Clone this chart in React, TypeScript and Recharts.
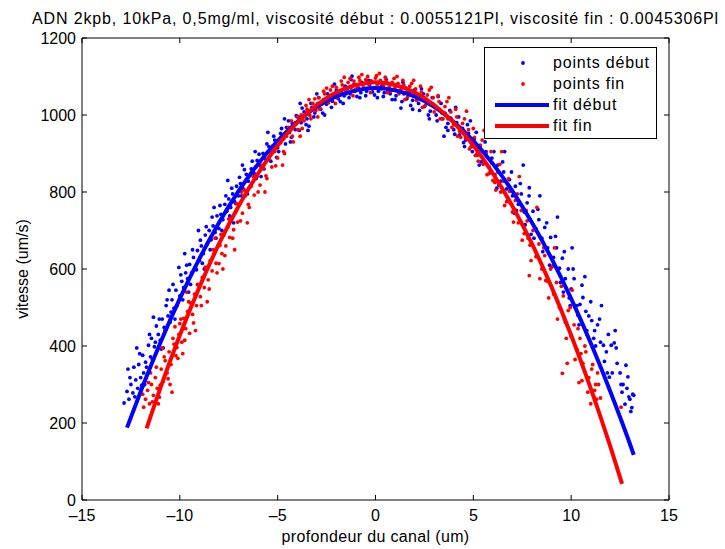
import {
  ScatterChart,
  Scatter,
  XAxis,
  YAxis,
  Legend,
} from "recharts";

// points début (blue)
const debutX = [
  -12.85, -12.7, -12.6, -12.5, -12.4, -12.35, -12.25, -12.15, -12.1, -12.0, -11.9, -11.85, -11.75, -11.6, -11.5,
  -11.45, -11.3, -11.2, -11.1, -11.0, -10.9, -10.8, -10.7, -10.6, -10.5, -10.4, -10.3, -10.2, -10.05, -10.0,
  -9.9, -9.8, -9.7, -9.6, -9.5, -9.4, -9.3, -9.2, -9.1, -9.0, -8.9, -8.8, -8.7, -8.6, -8.5, -8.4, -8.3, -8.2,
  -8.1, -8.0, -7.9, -7.8, -7.7, -7.6, -7.5, -7.4, -7.3, -7.2, -7.1, -7.0, -6.9, -6.75, -6.6, -6.5, -6.35, -6.2,
  -6.05, -5.9, -5.75, -5.6, -5.45, -5.3, -5.15, -5.0, -4.85, -4.7, -4.55, -4.4, -4.25, -4.1, -3.95, -3.8, -3.65,
  -3.5, -3.4, -3.25, -3.1, -2.95, -2.8, -2.65, -2.5, -2.35, -2.2, -2.05, -1.9, -1.75, -1.6, -1.45, -1.3, -1.2,
  -1.05, -0.9, -0.75, -0.6, -0.45, -0.3, -0.15, 0.0, 0.15, 0.3, 0.45, 0.6, 0.75, 0.9, 1.05, 1.2, 1.3, 1.45, 1.6,
  1.75, 1.9, 2.05, 2.2, 2.35, 2.5, 2.65, 2.8, 2.95, 3.1, 3.25, 3.4, 3.5, 3.55, 3.7, 3.85, 4.0, 4.15, 4.3, 4.45,
  4.6, 4.75, 4.9, 5.05, 5.2, 5.35, 5.5, 5.65, 5.8, 5.95, 6.1, 6.25, 6.4, 6.55, 6.7, 6.85, 7.0, 7.15, 7.3, 7.45,
  7.6, 7.75, 7.86, 7.9, 8.05, 8.2, 8.35, 8.5, 8.65, 8.8, 8.95, 9.1, 9.25, 9.4, 9.55, 9.7, 9.85, 9.95, 10.0,
  10.15, 10.3, 10.45, 10.6, 10.75, 10.9, 11.05, 11.2, 11.35, 11.5, 11.65, 11.8, 11.95, 12.05, 12.2, 12.35, 12.5,
  12.65, 12.75, 12.85, 13.0, 13.15, 13.2,
];
const debutV = [
  252, 282, 262, 300, 278, 345, 312, 290, 352, 318, 376, 330, 358, 402, 372,
  420, 398, 452, 430, 415, 470, 448, 505, 478, 462, 520, 498, 545, 604, 530,
  568, 552, 590, 575, 612, 590, 630, 605, 648, 622, 660, 640, 688, 665, 700, 676, 712, 695,
  738, 705, 742, 728, 768, 750, 782, 760, 795, 775, 815, 790, 822, 808, 846, 828, 860, 848,
  882, 868, 900, 885, 918, 902, 935, 915, 952, 938, 968, 955, 978, 962, 995, 980, 1008,
  990, 971, 1020, 1005, 1030, 1015, 1040, 1028, 1048, 1036, 1055, 1042, 1060, 1050, 1068, 1055, 1101,
  1062, 1072, 1058, 1070, 1062, 1078, 1060, 1072, 1062, 1075, 1058, 1068, 1055, 1066, 1050, 1062, 1018, 1055, 1042,
  1058, 1038, 1050, 1030, 1042, 1022, 1035, 1010, 1028, 1000, 1015, 990, 945, 1005, 978, 992, 962, 980, 948, 965,
  935, 952, 918, 938, 900, 920, 882, 905, 865, 888, 845, 870, 828, 852, 808, 832, 790, 815, 768, 795,
  748, 772, 811, 728, 750, 705, 728, 680, 708, 655, 682, 630, 655, 602, 628, 575, 600, 505, 548,
  575, 505, 508, 526, 490, 478, 466, 440, 455, 410, 402, 385, 319, 402, 408, 355, 330,
  300, 249, 290, 262, 275, 272,
];
// second pass over the blue cloud (denser spots)
const debutX2 = [
  -12.55, -12.3, -12.05, -11.95, -11.7, -11.55, -11.4, -11.25, -11.05, -10.95, -10.75, -10.65, -10.45, -10.35,
  -10.15, -9.95, -9.85, -9.65, -9.45, -9.35, -9.15, -8.95, -8.85, -8.65, -8.45, -8.35, -8.15, -7.95, -7.85,
  -7.65, -7.45, -7.35, -7.15, -6.95, -6.85, -6.7, -6.45, -6.3, -6.1, -5.95, -5.7, -5.55, -5.35, -5.2, -4.95,
  -4.8, -4.6, -4.45, -4.3, -4.05, -3.9, -3.75, -3.55, -3.3, -3.15, -2.9, -2.7, -2.45, -2.25, -2.0, -1.8, -1.55,
  -1.35, -1.1, -0.95, -0.7, -0.5, -0.25, -0.05, 0.2, 0.4, 0.65, 0.85, 1.1, 1.35, 1.55, 1.8, 2.0, 2.25, 2.45,
  2.7, 2.9, 3.15, 3.35, 3.6, 3.8, 4.05, 4.25, 4.5, 4.7, 4.95, 5.15, 5.4, 5.6, 5.85, 6.05, 6.3, 6.5, 6.75, 6.95,
  7.2, 7.4, 7.65, 7.85, 8.1, 8.3, 8.55, 8.75, 9.0, 9.2, 9.45, 9.65, 9.9, 10.1, 10.35, 10.55, 10.8, 11.0, 11.25,
  11.45, 11.7, 11.9, 12.1, 12.3, 12.55, 12.8, 12.95, 13.1,
];
const debutV2 = [
  318, 268, 380, 298, 345, 430, 365, 410, 470, 392, 440, 520, 488, 560,
  505, 585, 520, 610, 560, 650, 598, 675, 615, 710, 650, 735, 680, 765, 700,
  790, 738, 810, 770, 838, 790, 858, 812, 880, 835, 898, 860, 925, 880, 945, 905,
  965, 925, 985, 942, 998, 960, 1018, 975, 1030, 995, 1045, 1005, 1055, 1020, 1065, 1035, 1075,
  1045, 1080, 1048, 1085, 1050, 1088, 1052, 1085, 1048, 1082, 1040, 1078, 1035, 1070, 1025, 1065, 1012, 1055,
  1000, 1045, 985, 1030, 968, 1012, 950, 995, 928, 975, 905, 955, 878, 930, 850, 905, 818, 878, 785, 852,
  752, 822, 715, 790, 680, 755, 645, 720, 605, 685, 565, 645, 525, 600, 480, 558, 440, 515, 400,
  470, 360, 430, 330, 395, 300, 350, 268, 240,
];
// the looser blue points, off the main band
const debutX3 = [
  -12.65, -12.2, -11.8, -11.35, -10.85, -10.55, -10.25, -9.75, -9.55, -9.05, -8.75, -8.25, -8.05, -7.55, -7.25,
  -6.8, -6.55, -6.15, -5.85, -5.5, -5.05, -4.65, -4.35, -3.85, -3.45, -3.0, -2.6, -2.1, -1.65, -1.25, -0.8, -0.35,
  0.1, 0.55, 1.0, 1.4, 1.9, 2.35, 2.75, 3.2, 3.7, 4.1, 4.55, 4.85, 5.3, 5.7, 6.2, 6.6, 7.1, 7.55, 7.95, 8.4,
  8.9, 9.3, 9.6, 10.05, 10.4, 10.7, 11.15, 11.55, 11.85, 12.25, 12.6, 12.9, 13.05,
];
const debutV3 = [
  340, 395, 300, 475, 395, 545, 470, 640, 540, 700, 600, 760, 660, 830, 720,
  870, 795, 905, 840, 955, 890, 990, 930, 1030, 960, 1055, 1000, 1080, 1030, 1092, 1045, 1090,
  1045, 1092, 1040, 1085, 1015, 1068, 990, 1048, 960, 1020, 918, 985, 870, 948, 810, 905, 745, 870, 690, 790,
  610, 735, 540, 655, 455, 580, 420, 505, 330, 440, 280, 320, 230,
];

// points fin (red)
const finX = [
  -11.85, -11.75, -11.65, -11.55, -11.45, -11.35, -11.25, -11.15, -11.05, -10.95, -10.85, -10.75, -10.65, -10.55,
  -10.45, -10.4, -10.3, -10.2, -10.15, -10.05, -10.0, -9.9, -9.8, -9.7, -9.6, -9.5, -9.45, -9.35, -9.25, -9.15,
  -9.05, -8.95, -8.85, -8.75, -8.65, -8.55, -8.45, -8.35, -8.25, -8.15, -8.0, -7.95, -7.85, -7.75, -7.65, -7.55,
  -7.45, -7.35, -7.25, -7.15, -7.05, -6.95, -6.8, -6.65, -6.5, -6.35, -6.2, -6.05, -5.9, -5.75, -5.6, -5.45, -5.3,
  -5.15, -5.0, -4.85, -4.7, -4.55, -4.4, -4.25, -4.1, -3.95, -3.8, -3.65, -3.5, -3.35, -3.2, -3.05, -2.9, -2.75,
  -2.6, -2.45, -2.3, -2.15, -2.0, -1.85, -1.7, -1.55, -1.4, -1.25, -1.1, -0.95, -0.8, -0.65, -0.5, -0.35, -0.2,
  0.0, 0.1, 0.25, 0.4, 0.55, 0.7, 0.85, 1.0, 1.15, 1.3, 1.45, 1.6, 1.75, 1.9, 2.05, 2.2, 2.35, 2.5, 2.65, 2.8,
  2.95, 3.1, 3.25, 3.4, 3.55, 3.7, 3.85, 4.0, 4.15, 4.3, 4.45, 4.6, 4.75, 4.9, 5.05, 5.2, 5.35, 5.5, 5.65, 5.8,
  5.95, 6.1, 6.25, 6.4, 6.55, 6.7, 6.85, 7.0, 7.15, 7.3, 7.45, 7.6, 7.75, 7.86, 7.9, 8.05, 8.2, 8.35, 8.5, 8.65,
  8.8, 8.95, 9.1, 9.25, 9.4, 9.55, 9.6, 9.7, 9.8, 9.85, 10.0, 10.15, 10.3, 10.4, 10.45, 10.6, 10.75, 10.9, 11.0,
  11.05, 11.2, 11.3, 11.4, 12.55,
];
const finV = [
  241, 262, 285, 250, 300, 272, 318, 290, 267, 340, 308, 362, 330, 385,
  352, 280, 405, 375, 396, 430, 458, 410, 472, 445, 490, 433, 512, 482, 535, 505,
  558, 528, 578, 552, 600, 572, 622, 595, 640, 615, 614, 662, 640, 688, 660, 708,
  682, 728, 702, 748, 722, 768, 745, 790, 768, 815, 792, 840, 818, 862, 842, 885, 865,
  905, 888, 928, 905, 945, 962, 945, 980, 962, 1000, 985, 1015, 998, 1030, 1012, 1045, 1028,
  1055, 1040, 1065, 1050, 1072, 1058, 1078, 1065, 1085, 1070, 1088, 1075, 1090, 1078, 1092, 1080, 1088,
  1096, 1080, 1090, 1076, 1088, 1072, 1085, 1070, 1082, 1066, 1078, 1060, 1075, 1052, 1068, 1045, 1060, 1038, 1052, 1028,
  1045, 1018, 1035, 1005, 1022, 990, 1008, 975, 995, 958, 978, 940, 962, 918, 942, 895, 922, 872, 900, 848,
  875, 825, 852, 800, 828, 775, 802, 748, 778, 720, 752, 692, 725, 583, 662, 700, 632, 665, 600, 635,
  568, 600, 535, 565, 500, 329, 530, 462, 355, 492, 425, 455, 390, 305, 420, 355, 385, 318, 250,
  340, 285, 262, 300, 241,
];
const finX2 = [
  -11.6, -11.4, -11.2, -11.0, -10.8, -10.6, -10.35, -10.1, -9.95, -9.75, -9.55, -9.3, -9.1, -8.9, -8.7, -8.5,
  -8.3, -8.1, -7.9, -7.7, -7.5, -7.3, -7.1, -6.9, -6.7, -6.45, -6.25, -6.0, -5.8, -5.55, -5.35, -5.1, -4.9,
  -4.65, -4.45, -4.2, -4.0, -3.75, -3.55, -3.3, -3.1, -2.85, -2.65, -2.4, -2.2, -1.95, -1.75, -1.5, -1.3, -1.05,
  -0.85, -0.6, -0.4, -0.15, 0.05, 0.3, 0.5, 0.75, 0.95, 1.2, 1.4, 1.65, 1.85, 2.1, 2.3, 2.55, 2.75, 3.0, 3.2,
  3.45, 3.65, 3.9, 4.1, 4.35, 4.55, 4.8, 5.0, 5.25, 5.45, 5.7, 5.9, 6.15, 6.35, 6.6, 6.8, 7.05, 7.25, 7.5, 7.7,
  7.95, 8.15, 8.4, 8.6, 8.85, 9.05, 9.3, 9.5, 9.75, 9.95, 10.2, 10.35, 10.55, 10.7, 10.85, 11.1, 11.25, 11.5,
];
const finV2 = [
  305, 255, 345, 298, 372, 315, 420, 368, 470, 415, 515, 460, 560, 505, 605, 548,
  650, 590, 690, 635, 730, 680, 770, 725, 805, 760, 840, 800, 870, 835, 900, 868, 935,
  900, 968, 930, 995, 965, 1025, 990, 1042, 1015, 1062, 1032, 1075, 1045, 1088, 1055, 1095, 1065,
  1098, 1068, 1100, 1070, 1102, 1068, 1098, 1062, 1095, 1055, 1090, 1048, 1082, 1038, 1075, 1025, 1065, 1008, 1050,
  990, 1035, 968, 1015, 942, 990, 912, 965, 880, 935, 845, 905, 805, 872, 765, 835, 722, 795, 675, 752,
  622, 705, 575, 655, 525, 608, 470, 555, 420, 500, 365, 445, 310, 400, 280, 352, 300, 265,
];
const finX3 = [
  -11.9, -11.5, -11.1, -10.9, -10.5, -10.25, -9.85, -9.65, -9.2, -8.95, -8.6, -8.2, -7.8, -7.6, -7.2, -6.85,
  -6.55, -6.1, -5.65, -5.25, -4.75, -4.3, -3.85, -3.4, -2.95, -2.5, -2.05, -1.6, -1.15, -0.7, -0.25, 0.2, 0.6,
  1.1, 1.5, 1.95, 2.4, 2.85, 3.3, 3.75, 4.2, 4.65, 5.1, 5.55, 6.0, 6.45, 6.9, 7.35, 7.8, 8.25, 8.7, 9.15, 9.65,
  10.05, 10.5, 10.8, 11.15, 11.35,
];
const finV3 = [
  275, 330, 250, 395, 300, 450, 380, 540, 440, 630, 515, 680, 600, 755, 650, 800,
  720, 865, 800, 920, 870, 985, 945, 1040, 995, 1070, 1030, 1098, 1050, 1105, 1058, 1108, 1058,
  1100, 1040, 1090, 1020, 1072, 990, 1045, 945, 1010, 895, 960, 830, 905, 770, 840, 680, 760, 570, 655, 470,
  545, 380, 430, 270, 330,
];

// fitted parabolas, sampled off the drawn curves
const fitDebutX = [-12.7, -12, -11, -10, -9, -8, -7, -6, -5, -4, -3, -2, -1, 0, 1, 2, 3, 4, 5, 6, 7, 8, 9, 10, 11, 12, 13, 13.2];
const fitDebutV = [188, 282, 408, 523, 627, 720, 802, 873, 933, 982, 1021, 1048, 1064, 1070, 1064, 1048, 1021, 982, 933, 873, 802, 720, 627, 523, 408, 282, 146, 117];
const fitFinX = [-11.7, -11, -10, -9, -8, -7, -6, -5, -4, -3, -2, -1, 0, 1, 2, 3, 4, 5, 6, 7, 8, 9, 10, 11, 12, 12.6];
const fitFinV = [186, 290, 428, 553, 665, 763, 848, 921, 980, 1026, 1059, 1078, 1085, 1078, 1059, 1026, 980, 921, 848, 763, 665, 553, 428, 290, 139, 42];

const xTicks = [-15, -10, -5, 0, 5, 10, 15];
const yTicks = [0, 200, 400, 600, 800, 1000, 1200];

const title = "ADN 2kpb, 10kPa, 0,5mg/ml, viscosité début : 0.0055121Pl, viscosité fin : 0.0045306Pl";
const legendItems = [
  { name: "points début", color: "#0000ff", kind: "dot" },
  { name: "points fin", color: "#ff0000", kind: "dot" },
  { name: "fit début", color: "#0000ff", kind: "line" },
  { name: "fit fin", color: "#ff0000", kind: "line" },
];

const zip = (xs: number[], vs: number[]) => xs.map((x, i) => ({ x, v: vs[i] }));
const debut = [...zip(debutX, debutV), ...zip(debutX2, debutV2), ...zip(debutX3, debutV3)];
const fin = [...zip(finX, finV), ...zip(finX2, finV2), ...zip(finX3, finV3)];
const fitDebut = zip(fitDebutX, fitDebutV);
const fitFin = zip(fitFinX, fitFinV);

const FONT = '"Liberation Sans", Arial, Helvetica, sans-serif';
const FS = 16;
const tickStyle = { fill: "#000", fontSize: FS, fontFamily: FONT };
const minus = (v: number) => (v < 0 ? "\u2013" + Math.abs(v) : String(v));
const blank = () => "";

const Dot = (color: string) => (props: any) =>
  <circle cx={props.cx} cy={props.cy} r={1.9} fill={color} />;

const MatlabLegend = () => (
  <div
    style={{
      border: "1px solid #000",
      background: "#fff",
      width: 173,
      height: 92,
      boxSizing: "border-box",
      fontFamily: FONT,
      fontSize: FS,
      letterSpacing: 0.8,
      paddingTop: 4,
    }}
  >
    {legendItems.map((it) => (
      <div key={it.name} style={{ display: "flex", alignItems: "center", height: 21 }}>
        <svg width={68} height={21}>
          {it.kind === "dot" ? (
            <circle cx={38} cy={11} r={1.9} fill={it.color} />
          ) : (
            <line x1={10} x2={64} y1={11} y2={11} stroke={it.color} strokeWidth={4} />
          )}
        </svg>
        <span style={{ color: "#000" }}>{it.name}</span>
      </div>
    ))}
  </div>
);

export default function App() {
  return (
    <div style={{ width: 725, height: 549, background: "#fff" }}>
      <style>{"body{margin:0}"}</style>
      <ScatterChart width={725} height={549} margin={{ top: 37, right: 55, bottom: 0, left: 0 }}>
        <XAxis
          type="number"
          dataKey="x"
          domain={[-15, 15]}
          ticks={xTicks}
          tickFormatter={minus}
          tickSize={-5}
          tickMargin={15}
          height={49}
          stroke="#000"
          tick={tickStyle}
          label={{ value: "profondeur du canal (um)", position: "insideBottom", offset: 7, fill: "#000", fontSize: FS, fontFamily: FONT, style: { letterSpacing: 0.35 } }}
        />
        <XAxis
          xAxisId="top"
          orientation="top"
          type="number"
          dataKey="x"
          domain={[-15, 15]}
          ticks={xTicks}
          tickFormatter={blank}
          tickSize={-5}
          height={1}
          stroke="#000"
          label={{ value: title, position: "top", offset: 13, fill: "#000", fontSize: FS, fontFamily: FONT, style: { letterSpacing: 0.85 } }}
        />
        <YAxis
          type="number"
          dataKey="v"
          domain={[0, 1200]}
          ticks={yTicks}
          tickSize={-5}
          tickMargin={11}
          width={82}
          stroke="#000"
          tick={tickStyle}
          label={{ value: "vitesse (um/s)", angle: -90, position: "insideLeft", offset: 22, fill: "#000", fontSize: FS, fontFamily: FONT, style: { textAnchor: "middle" } }}
        />
        <YAxis
          yAxisId="right"
          orientation="right"
          type="number"
          dataKey="v"
          domain={[0, 1200]}
          ticks={yTicks}
          tickFormatter={blank}
          tickSize={-5}
          width={1}
          stroke="#000"
        />
        <Legend
          layout="vertical"
          verticalAlign="middle"
          align="center"
          content={() => <MatlabLegend />}
          wrapperStyle={{ position: "absolute", left: 484, top: 47, width: 173, height: 92 }}
        />
        <Scatter name="points début" data={debut} fill="#0000ff" shape={Dot("#0000ff")} isAnimationActive={false} />
        <Scatter name="points fin" data={fin} fill="#ff0000" shape={Dot("#ff0000")} isAnimationActive={false} />
        <Scatter
          name="fit début"
          data={fitDebut}
          fill="#0000ff"
          line={{ stroke: "#0000ff", strokeWidth: 4 }}
          lineJointType="monotoneX"
          shape={() => <g />}
          isAnimationActive={false}
        />
        <Scatter
          name="fit fin"
          data={fitFin}
          xAxisId="top"
          yAxisId="right"
          fill="#ff0000"
          line={{ stroke: "#ff0000", strokeWidth: 4 }}
          lineJointType="monotoneX"
          shape={() => <g />}
          isAnimationActive={false}
        />
      </ScatterChart>
    </div>
  );
}
